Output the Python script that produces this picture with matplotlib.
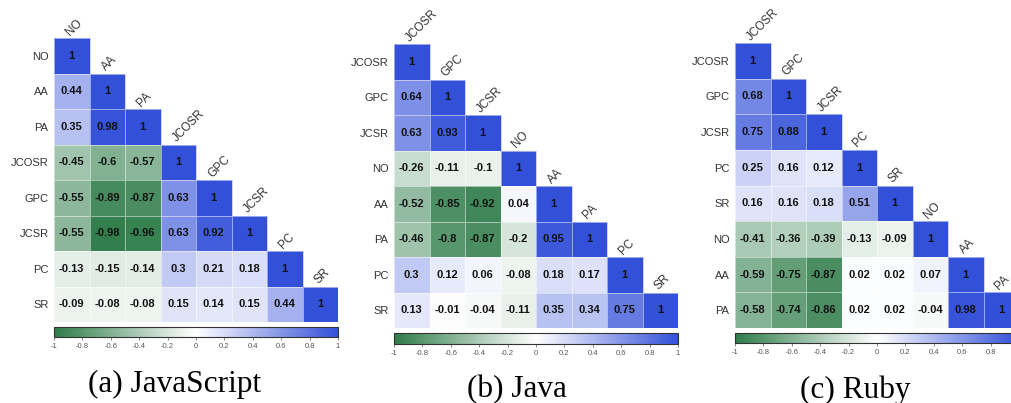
import numpy as np
import matplotlib
matplotlib.use("Agg")
import matplotlib.pyplot as plt
from matplotlib.colors import LinearSegmentedColormap

plt.rcParams['font.family'] = ['Liberation Sans', 'DejaVu Sans']

##########################################
# data (lower triangle rows of each correlation matrix)
js_labels = ["NO", "AA", "PA", "JCOSR", "GPC", "JCSR", "PC", "SR"]
js_rows = [
    [1],
    [0.44, 1],
    [0.35, 0.98, 1],
    [-0.45, -0.6, -0.57, 1],
    [-0.55, -0.89, -0.87, 0.63, 1],
    [-0.55, -0.98, -0.96, 0.63, 0.92, 1],
    [-0.13, -0.15, -0.14, 0.3, 0.21, 0.18, 1],
    [-0.09, -0.08, -0.08, 0.15, 0.14, 0.15, 0.44, 1],
]

java_labels = ["JCOSR", "GPC", "JCSR", "NO", "AA", "PA", "PC", "SR"]
java_rows = [
    [1],
    [0.64, 1],
    [0.63, 0.93, 1],
    [-0.26, -0.11, -0.1, 1],
    [-0.52, -0.85, -0.92, 0.04, 1],
    [-0.46, -0.8, -0.87, -0.2, 0.95, 1],
    [0.3, 0.12, 0.06, -0.08, 0.18, 0.17, 1],
    [0.13, -0.01, -0.04, -0.11, 0.35, 0.34, 0.75, 1],
]

ruby_labels = ["JCOSR", "GPC", "JCSR", "PC", "SR", "NO", "AA", "PA"]
ruby_rows = [
    [1],
    [0.68, 1],
    [0.75, 0.88, 1],
    [0.25, 0.16, 0.12, 1],
    [0.16, 0.16, 0.18, 0.51, 1],
    [-0.41, -0.36, -0.39, -0.13, -0.09, 1],
    [-0.59, -0.75, -0.87, 0.02, 0.02, 0.07, 1],
    [-0.58, -0.74, -0.86, 0.02, 0.02, -0.04, 0.98, 1],
]

captions = ["(a) JavaScript", "(b) Java", "(c) Ruby"]
cbar_ticks = [-1, -0.8, -0.6, -0.4, -0.2, 0, 0.2, 0.4, 0.6, 0.8, 1]

cmap = LinearSegmentedColormap.from_list("gw_b", ["#2f7d4a", "#ffffff", "#3350d9"])

W, H = 1011, 403


def px_axes(fig, left, top, right, bottom):
    return fig.add_axes([left / W, 1 - bottom / H, (right - left) / W, (bottom - top) / H])


##########################################
def draw_panel(fig, labels, rows, box, cbox, caption, cap_xy):
    n = len(labels)
    mat = np.full((n, n), np.nan)
    for i, r in enumerate(rows):
        mat[i, :len(r)] = r

    ax = px_axes(fig, *box)
    mesh = ax.pcolormesh(np.ma.masked_invalid(mat), cmap=cmap, vmin=-1, vmax=1,
                         edgecolors=(1, 1, 1, 0.5), linewidth=0.4)
    ax.set_xlim(0, n)
    ax.set_ylim(n, 0)
    for s in ax.spines.values():
        s.set_visible(False)
    ax.set_xticks([])
    ax.set_yticks(np.arange(n) + 0.5)
    ax.set_yticklabels(labels, fontsize=8, color="#333333")
    ax.tick_params(axis="y", length=0, pad=4)

    for i in range(n):
        for j in range(i + 1):
            ax.text(j + 0.5, i + 0.5, "{:g}".format(mat[i, j]), ha="center", va="center",
                    fontsize=8, fontweight="bold", color="#111111")
        # rotated column labels above diagonal cells
        ax.text(i + 0.45, i - 0.07, labels[i], rotation=45, rotation_mode="anchor",
                ha="left", va="baseline", fontsize=8.5, color="#333333", clip_on=False)

    cax = px_axes(fig, *cbox)
    cb = fig.colorbar(mesh, cax=cax, orientation="horizontal", ticks=cbar_ticks)
    cb.ax.set_xticklabels(["{:g}".format(t) for t in cbar_ticks])
    cb.outline.set_edgecolor("#333333")
    cb.outline.set_linewidth(0.8)
    cax.tick_params(length=2, width=0.5, labelsize=5.5, colors="#555555", pad=2)

    fig.text(cap_xy[0] / W, 1 - cap_xy[1] / H, caption, ha="center", va="center",
             fontsize=22.5, family=["Liberation Serif", "DejaVu Serif"])


##########################################
def main():
    fig = plt.figure(figsize=(W / 100, H / 100), dpi=100)

    draw_panel(fig, js_labels, js_rows, (54, 38, 338, 322), (54, 327, 338, 337),
               captions[0], (175, 384))
    draw_panel(fig, java_labels, java_rows, (394, 44, 678, 328), (394, 333, 678, 344),
               captions[1], (517, 390))
    draw_panel(fig, ruby_labels, ruby_rows, (735, 43, 1019, 328), (735, 333, 1019, 343),
               captions[2], (855, 390))

    fig.savefig("out.png", dpi=100)


if __name__ == "__main__":
    main()
